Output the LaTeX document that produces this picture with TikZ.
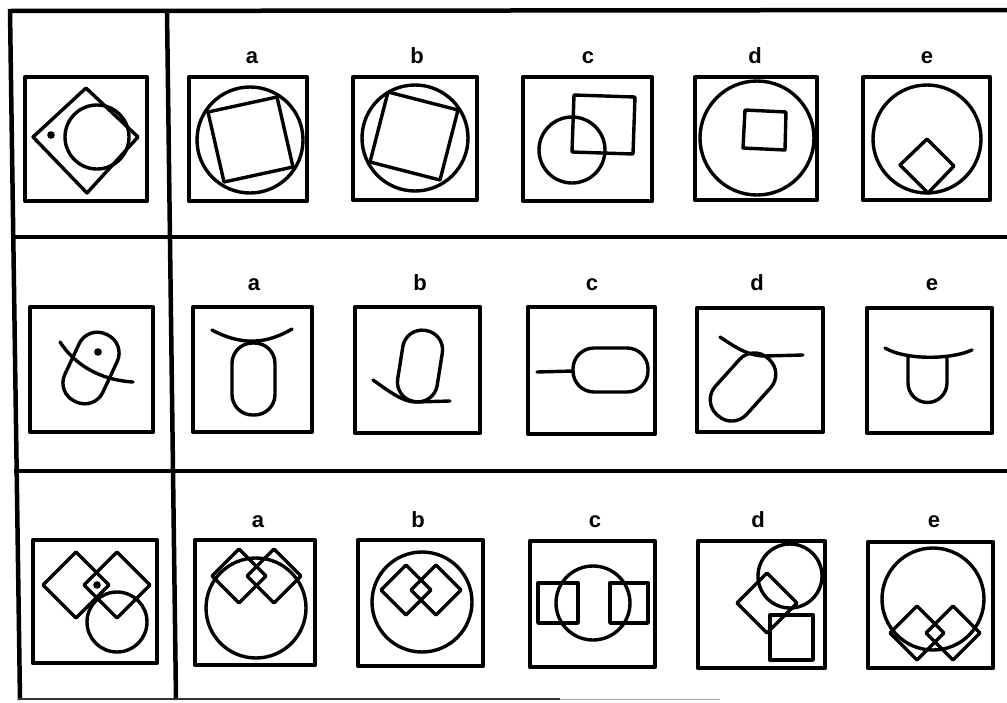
\documentclass[tikz,border=0pt]{standalone}
\usepackage{fontspec}
\setmainfont{Liberation Sans}
\usepackage{tikz}

\begin{document}
\begin{tikzpicture}[x=1pt,y=-1pt,
  frame/.style={line width=4.5pt},
  box/.style={line width=4.2pt,line join=round},
  fig/.style={line width=3.4pt,line join=round,line cap=round},
  lab/.style={anchor=base,font=\fontsize{22}{24}\selectfont\bfseries}]
\useasboundingbox (0,0) rectangle (1007,702);
%外框
\draw[frame] (8,11)--(1007,10);
\draw[frame] (10,11)--(20,700);
\draw[frame] (167,11)--(176,700);
\draw[frame] (11,237)--(1007,237);
\draw[frame] (14,471)--(1007,471);
\draw[line width=1.2pt,black!80] (18,699)--(560,699);
\draw[line width=1pt,black!35] (560,699)--(720,699);

%第一行
\draw[box] (25,77) rectangle (147,201);
\draw[box] (189,77) rectangle (307,201);
\draw[box] (353,77) rectangle (477,200);
\draw[box] (523,77) rectangle (652,201);
\draw[box] (695,77) rectangle (817,200);
\draw[box] (863,77) rectangle (990,200);
\node[lab] (a1) at (252,63) {a};
\node[lab] (b1) at (417,63) {b};
\node[lab] (c1) at (588,63) {c};
\node[lab] (d1) at (755,63) {d};
\node[lab] (e1) at (927,63) {e};
% 题目
\draw[fig] (86,88)--(138,137)--(87,193)--(33,137)--cycle;
\draw[fig] (97,137) circle[radius=32pt];
\fill (51,135) circle[radius=3.8pt];
% a
\draw[fig] (250,140) circle[radius=53pt];
\draw[fig] (208,112)--(277,97)--(293,167)--(224,182)--cycle;
% b
\draw[fig] (415,138) circle[radius=53pt];
\draw[fig] (388,92)--(458,110)--(440,180)--(370,162)--cycle;
% c
\draw[fig] (572,150) circle[radius=33pt];
\draw[fig] (574,95)--(635,97)--(633,154)--(572,152)--cycle;
% d
\draw[fig] (757,138) circle[radius=57pt];
\draw[fig] (745,110)--(786,112)--(785,150)--(743,148)--cycle;
% e
\draw[fig] (927,139) circle[radius=54pt];
\draw[fig] (927,139)--(954,166)--(928,193)--(900,165)--cycle;

%第二行
\draw[box] (30,307) rectangle (153,432);
\draw[box] (193,307) rectangle (312,432);
\draw[box] (355,307) rectangle (480,433);
\draw[box] (528,307) rectangle (655,434);
\draw[box] (697,308) rectangle (823,432);
\draw[box] (867,308) rectangle (992,433);
\node[lab] (a2) at (254,290) {a};
\node[lab] (b2) at (420,290) {b};
\node[lab] (c2) at (592,290) {c};
\node[lab] (d2) at (757,290) {d};
\node[lab] (e2) at (932,290) {e};
% 题目
\draw[fig,rotate around={-25:(91,368)},rounded corners=20pt] (70,331) rectangle (112,405);
\draw[fig] (60,342) .. controls (75,365) and (100,380) .. (133,382);
\fill (98,352) circle[radius=3.8pt];
% a
\draw[fig] (212,330) .. controls (240,345) and (265,345) .. (292,329);
\draw[fig,rounded corners=20.5pt] (232,343) rectangle (275,415);
% b
\draw[fig,rotate around={-9:(420,366)},rounded corners=19.5pt] (400,330) rectangle (440,402);
\draw[fig] (373,380) .. controls (390,392) and (403,402) .. (416,402)--(450,401);
% c
\draw[fig,rounded corners=21pt] (573,348) rectangle (648,392);
\draw[fig] (537,372)--(573,371);
% d
\draw[fig] (720,337) .. controls (735,347) and (748,356) .. (765,356)--(803,355);
\draw[fig,rotate around={-42:(743,387)},rounded corners=20pt] (722,349) rectangle (764,425);
% e
\draw[fig] (885,348) .. controls (905,360) and (950,360) .. (972,350);
\draw[fig] (908,357)--(908,383) arc[start angle=180,end angle=360,radius=19.5pt]--(947,357);

%第三行
\draw[box] (33,540) rectangle (157,663);
\draw[box] (195,540) rectangle (315,665);
\draw[box] (358,540) rectangle (483,666);
\draw[box] (530,541) rectangle (655,667);
\draw[box] (698,541) rectangle (825,668);
\draw[box] (868,542) rectangle (993,668);
\node[lab] (a3) at (258,527) {a};
\node[lab] (b3) at (418,527) {b};
\node[lab] (c3) at (595,527) {c};
\node[lab] (d3) at (758,527) {d};
\node[lab] (e3) at (934,527) {e};
% 题目
\draw[fig] (76,552)--(109,585)--(76,618)--(43,585)--cycle;
\draw[fig] (117,552)--(150,585)--(117,618)--(84,585)--cycle;
\draw[fig] (117,622) circle[radius=30pt];
\fill (97,585) circle[radius=3.8pt];
% a
\draw[fig] (256,608) circle[radius=50pt];
\draw[fig] (239,549)--(266,576)--(239,603)--(212,576)--cycle;
\draw[fig] (274,549)--(301,576)--(274,603)--(247,576)--cycle;
% b
\draw[fig] (422,602) circle[radius=50pt];
\draw[fig] (406,565)--(431,590)--(406,615)--(381,590)--cycle;
\draw[fig] (436,565)--(461,590)--(436,615)--(411,590)--cycle;
% c
\draw[fig] (593,603) circle[radius=37pt];
\draw[fig] (538,583) rectangle (578,623);
\draw[fig] (610,583) rectangle (648,623);
% d
\draw[fig] (790,576) circle[radius=32pt];
\draw[fig] (767,573)--(797,603)--(767,633)--(737,603)--cycle;
\draw[fig] (770,615) rectangle (813,660);
% e
\draw[fig] (933,599) circle[radius=51pt];
\draw[fig] (917,606)--(944,633)--(917,660)--(890,633)--cycle;
\draw[fig] (953,606)--(980,633)--(953,660)--(926,633)--cycle;
\end{tikzpicture}
\end{document}
